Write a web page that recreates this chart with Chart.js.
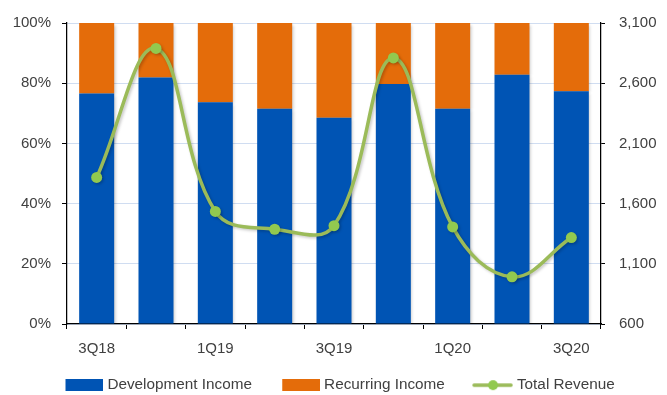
<!DOCTYPE html>
<html>
<head>
<meta charset="utf-8">
<script src="https://cdn.jsdelivr.net/npm/chart.js@4.4.0/dist/chart.umd.min.js"></script>
<style>
  html, body { margin: 0; padding: 0; background: #ffffff; }
  #wrap { width: 667px; height: 395px; }
</style>
</head>
<body>
<div id="wrap"><canvas id="c" width="667" height="395"></canvas></div>
<script>
// Quarterly income mix (share of total, %) and total revenue
const quarters = ['3Q18', '4Q18', '1Q19', '2Q19', '3Q19', '4Q19', '1Q20', '2Q20', '3Q20'];
const developmentShare = [76.6, 81.9, 73.7, 71.5, 68.5, 79.7, 71.5, 82.8, 77.3];
const recurringShare   = [23.4, 18.1, 26.3, 28.5, 31.5, 20.3, 28.5, 17.2, 22.7];
const totalRevenue     = [1817, 2889, 1535, 1387, 1417, 2810, 1406, 992, 1318];

// Axis tick values
const shareTicks   = [0, 20, 40, 60, 80, 100];
const revenueTicks = [600, 1100, 1600, 2100, 2600, 3100];

const BLUE = '#0054B4';
const ORANGE = '#E46C0A';
const GREEN_LINE = '#9BBB59';
const GREEN_DOT = '#92C94F';
const TEXT = '#404040';
const GRID = '#D0DDF1';

Chart.defaults.font.family = '"Liberation Sans", Arial, sans-serif';
Chart.defaults.font.size = 15;
Chart.defaults.color = TEXT;

// Legend swatches: transparent lead-in on the left, marker on the right
const SW_W = 62, SW_H = 12;
function boxSwatch(color) {
  const c = document.createElement('canvas');
  c.width = SW_W; c.height = SW_H;
  const g = c.getContext('2d');
  g.fillStyle = color;
  g.fillRect(SW_W - 38, 0, 38, SW_H);
  return c;
}
function lineSwatch() {
  const c = document.createElement('canvas');
  c.width = SW_W; c.height = SW_H;
  const g = c.getContext('2d');
  const x0 = SW_W - 41;
  g.strokeStyle = GREEN_LINE;
  g.lineWidth = 3.5;
  g.lineCap = 'round';
  g.beginPath(); g.moveTo(x0 + 2, 6); g.lineTo(x0 + 39, 6); g.stroke();
  g.fillStyle = GREEN_DOT;
  g.beginPath(); g.arc(x0 + 21, 6, 5, 0, Math.PI * 2); g.fill();
  return c;
}
const swatches = [boxSwatch(BLUE), boxSwatch(ORANGE), lineSwatch()];

// Soft drop shadow under the bars and the revenue line
const markShadow = {
  id: 'markShadow',
  beforeDatasetDraw(chart) {
    const ctx = chart.ctx;
    ctx.save();
    ctx.shadowColor = 'rgba(0,0,0,0.22)';
    ctx.shadowBlur = 3;
    ctx.shadowOffsetX = 1.5;
    ctx.shadowOffsetY = 1.5;
  },
  afterDatasetDraw(chart) {
    chart.ctx.restore();
  }
};

// Horizontal placement of the legend row
const legendShift = {
  id: 'legendShift',
  afterLayout(chart) {
    const lg = chart.legend;
    if (!lg) return;
    lg.left -= 3.5;
    lg.right -= 3.5;
  }
};

new Chart(document.getElementById('c'), {
  data: {
    labels: quarters,
    datasets: [
      {
        type: 'line',
        label: 'Total Revenue',
        data: totalRevenue,
        yAxisID: 'y1',
        order: 0,
        borderColor: GREEN_LINE,
        borderWidth: 3.5,
        tension: 0.4,
        pointRadius: 5.5,
        pointBackgroundColor: GREEN_DOT,
        pointBorderColor: GREEN_DOT,
        pointBorderWidth: 0
      },
      {
        type: 'bar',
        label: 'Development Income',
        data: developmentShare,
        yAxisID: 'y',
        order: 1,
        backgroundColor: BLUE,
        categoryPercentage: 1,
        barPercentage: 0.59
      },
      {
        type: 'bar',
        label: 'Recurring Income',
        data: recurringShare,
        yAxisID: 'y',
        order: 1,
        backgroundColor: ORANGE,
        categoryPercentage: 1,
        barPercentage: 0.59
      }
    ]
  },
  plugins: [markShadow, legendShift],
  options: {
    responsive: false,
    animation: false,
    devicePixelRatio: 1,
    layout: { padding: { left: 0, top: 19, right: 0, bottom: 0 } },
    plugins: {
      tooltip: { enabled: false },
      legend: {
        position: 'bottom',
        maxHeight: 27.5,
        labels: {
          usePointStyle: true,
          pointStyleWidth: 54.5,
          boxHeight: 15,
          padding: 10,
          color: TEXT,
          font: { size: 15.3 },
          generateLabels: (chart) => {
            const ds = chart.data.datasets;
            return [1, 2, 0].map((i, k) => ({
              text: ds[i].label,
              datasetIndex: i,
              pointStyle: swatches[k],
              fillStyle: 'transparent',
              strokeStyle: 'transparent',
              lineWidth: 0,
              hidden: false,
              fontColor: TEXT
            }));
          }
        }
      }
    },
    scales: {
      x: {
        stacked: true,
        offset: true,
        grid: {
          offset: true,
          drawOnChartArea: false,
          tickColor: '#000000',
          tickLength: 5,
          tickWidth: 1
        },
        border: { color: '#000000', width: 1.25 },
        ticks: {
          autoSkip: false,
          maxRotation: 0,
          padding: 11,
          callback: (v, i) => (i % 2 === 0 ? quarters[i] : '')
        },
        afterFit: (s) => { s.height = 43.5; }
      },
      y: {
        position: 'left',
        stacked: true,
        min: 0,
        max: 100,
        afterBuildTicks: (s) => { s.ticks = shareTicks.map(v => ({ value: v })); },
        grid: {
          color: GRID,
          lineWidth: 1,
          tickColor: '#000000',
          tickLength: 5
        },
        border: { color: '#000000', width: 1.25 },
        ticks: {
          padding: 11,
          callback: (v) => v + '%'
        },
        afterFit: (s) => { s.width = 67; }
      },
      y1: {
        position: 'right',
        min: 600,
        max: 3100,
        afterBuildTicks: (s) => { s.ticks = revenueTicks.map(v => ({ value: v })); },
        grid: {
          drawOnChartArea: false,
          tickColor: '#000000',
          tickLength: 4
        },
        border: { color: '#000000', width: 1.25 },
        ticks: {
          padding: 14,
          callback: (v) => v.toLocaleString('en-US')
        },
        afterFit: (s) => { s.width = 66; }
      }
    }
  }
});
</script>
</body>
</html>
